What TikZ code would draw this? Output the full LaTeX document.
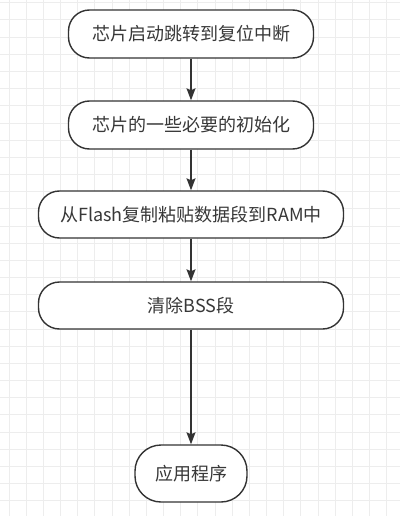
\documentclass[tikz,border=0pt]{standalone}
\usepackage{fontspec}
\setmainfont{Noto Sans CJK SC}
\usepackage{xcolor}
\usetikzlibrary{arrows.meta,positioning}
\colorlet{gridGray}{black!7}
\colorlet{boxLine}{black!80}
\colorlet{boxText}{black!78}

\begin{document}
\begin{tikzpicture}[x=1pt,y=-1pt,
    stepbox/.style={draw=boxLine, line width=1.4pt, fill=white, text=boxText,
      font=\fontsize{18}{21}\selectfont, inner sep=0pt, rounded corners=21pt},
    flow/.style={draw=boxLine, line width=1.4pt, -{Stealth[length=12pt,width=9pt,inset=2pt]}}]
        % Page and background grid
        \useasboundingbox (0,0) rectangle (400,516);
        \fill[white] (0,0) rectangle (400,516);
        \foreach \i in {0,...,22}
          \draw[gridGray, line width=1pt] ({9+17.17*\i},0) -- ({9+17.17*\i},516);
        \foreach \j in {0,...,29}
          \draw[gridGray, line width=1pt] (0,{2.83+17.17*\j}) -- (400,{2.83+17.17*\j});
        % Steps of the startup sequence
        \node[stepbox, minimum width=245pt, minimum height=48pt] (B1) at (191,34) {芯片启动跳转到复位中断};
        \node[stepbox, minimum width=245pt, minimum height=48pt] (B2) at (191,125) {芯片的一些必要的初始化};
        \node[stepbox, minimum width=305pt, minimum height=47pt] (B3) at (191,214.5) {从Flash复制粘贴数据段到RAM中};
        \node[stepbox, minimum width=305pt, minimum height=47pt] (B4) at (191,305.5) {清除BSS段};
        \node[stepbox, minimum width=112pt, minimum height=57pt, rounded corners=26pt] (B5) at (191,473.5) {应用程序};
        % Connectors
        \draw[flow] (B1) -- (B2);
        \draw[flow] (B2) -- (B3);
        \draw[flow] (B3) -- (B4);
        \draw[flow] (B4) -- (B5);
      \end{tikzpicture}
\end{document}
